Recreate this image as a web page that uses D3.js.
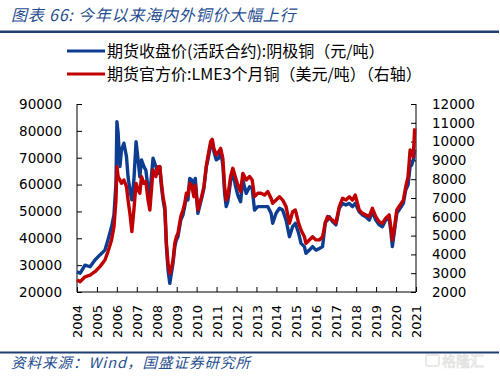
<!DOCTYPE html>
<html><head><meta charset="utf-8">
<script src="https://cdn.jsdelivr.net/npm/d3@7"></script>
<style>
html,body{margin:0;padding:0;background:#fff;}
svg{display:block;}
</style></head>
<body>
<svg id="chart" width="500" height="379"></svg>
<script>
const titleText = "图表 66:  今年以来海内外铜价大幅上行";
const sourceText = "资料来源：Wind，国盛证券研究所";
const seriesNames = ["期货收盘价(活跃合约):阴极铜（元/吨）", "期货官方价:LME3个月铜（美元/吨）（右轴）"];
const yearLabels = [2004,2005,2006,2007,2008,2009,2010,2011,2012,2013,2014,2015,2016,2017,2018,2019,2020,2021];
const leftTicks = [20000,30000,40000,50000,60000,70000,80000,90000];
const rightTicks = [2000,3000,4000,5000,6000,7000,8000,9000,10000,11000,12000];

const dates = ["2004-05-14","2004-07-12","2004-10-08","2005-01-08","2005-04-08","2005-07-08","2005-10-08","2005-12-02","2006-02-06","2006-03-22",
"2006-04-28","2006-05-15","2006-06-06","2006-07-09","2006-08-07","2006-09-20","2006-11-06","2006-12-05","2007-01-08","2007-02-13",
"2007-03-22","2007-05-01","2007-06-07","2007-07-09","2007-08-08","2007-09-21","2007-10-27","2007-12-06","2008-01-08","2008-03-07",
"2008-04-27","2008-06-06","2008-07-09","2008-08-08","2008-09-06","2008-10-09","2008-11-07","2008-12-06","2009-01-08","2009-02-06",
"2009-03-08","2009-04-09","2009-05-08","2009-06-06","2009-07-28","2009-09-06","2009-10-09","2009-11-07","2009-12-06","2010-01-08",
"2010-02-17","2010-03-25","2010-04-20","2010-06-06","2010-07-09","2010-08-14","2010-09-24","2010-11-07","2010-12-06","2011-01-26",
"2011-02-24","2011-03-25","2011-05-08","2011-06-21","2011-07-28","2011-09-06","2011-10-09","2011-11-07","2011-12-06","2012-01-26",
"2012-03-07","2012-04-20","2012-06-06","2012-07-27","2012-09-06","2012-11-07","2013-01-08","2013-02-24","2013-04-09","2013-06-06",
"2013-08-08","2013-10-09","2013-12-06","2014-02-06","2014-03-07","2014-05-08","2014-07-09","2014-09-06","2014-11-07","2015-01-08",
"2015-03-07","2015-04-27","2015-06-25","2015-08-08","2015-10-09","2015-11-07","2016-01-08","2016-03-07","2016-05-08","2016-07-09",
"2016-09-06","2016-10-27","2016-12-06","2017-01-08","2017-03-07","2017-05-08","2017-07-09","2017-09-06","2017-11-07","2018-01-08",
"2018-03-07","2018-04-27","2018-07-09","2018-09-06","2018-11-07","2019-01-08","2019-03-07","2019-05-08","2019-07-09","2019-09-06",
"2019-11-07","2020-01-08","2020-02-06","2020-03-07","2020-04-09","2020-05-27","2020-07-28","2020-09-24","2020-11-07","2020-12-20",
"2021-01-26","2021-02-24","2021-03-25","2021-04-20"];

const shfe = [27500,27000,30000,29400,31900,33800,35600,39400,44300,48700,
60600,83400,79200,66700,72900,75400,70400,62900,58000,54300,
61700,76000,69200,62900,69200,66700,65400,58600,56700,69800,
66700,64200,66700,59200,54300,50500,36900,28200,23200,27000,
30700,36900,39400,40600,46800,48700,52000,55500,54300,62300,
61700,59200,62300,49300,52000,54900,58600,66700,69200,74700,
76000,72300,69200,69800,72900,67300,56700,51800,53600,61100,
65400,59900,56100,53600,61700,56700,59200,58600,50500,51800,
51800,51800,51800,49300,45600,49300,51200,50500,46800,40600,
44300,45600,41900,38100,36900,34400,35600,36900,35600,36200,
36900,46000,46800,48000,46200,45000,51200,53000,52400,53000,
51800,53000,49900,48700,48000,46800,49900,46800,45000,44300,
46800,47400,43100,36900,41900,49300,51200,53000,58000,59900,
66700,67300,69200,73000];

const lme = [2640,2550,2810,2900,3080,3350,3700,4140,4770,5470,
6890,8670,8140,7960,7780,7960,7600,6890,6180,5210,
6360,7780,7430,7250,8140,7780,7870,6890,6360,8490,
8140,8670,8670,7780,7070,6540,4590,3530,2990,3260,
3700,4590,4940,5120,6010,6360,6720,7250,7160,7780,
7600,7070,7690,6360,6720,7070,7600,8670,9200,10000,
10120,9640,9290,9460,9640,9110,7600,6890,7070,8140,
8580,8140,7690,7340,8310,7960,8140,7960,7070,7250,
7250,7160,7340,6980,6720,6890,7070,6890,6540,5660,
6270,6360,5660,5300,4940,4590,4770,4940,4770,4770,
4940,5700,6010,5920,5830,5660,6540,6980,6890,7070,
6890,7160,6360,6180,6100,6010,6450,6010,5740,5660,
5920,6100,5480,4770,5300,6360,6630,6890,7600,8140,
9550,9370,9200,10700];

const parse = d3.timeParse("%Y-%m-%d");
const svg = d3.select("#chart");
const blue = "#0D3D91", red = "#C00000", navy = "#1F3F73", textBlue = "#1F4E8F";

// header
svg.append("text").attr("x", 11).attr("y", 21)
  .attr("font-family", "'Noto Sans CJK SC', sans-serif").attr("font-size", 16)
  .attr("letter-spacing", 0.8)
  .attr("font-style", "italic").attr("fill", textBlue).text(titleText);
svg.append("rect").attr("x", 0).attr("y", 30.5).attr("width", 499).attr("height", 2.5).attr("fill", navy);

// footer
svg.append("rect").attr("x", 0).attr("y", 351.5).attr("width", 499).attr("height", 2).attr("fill", navy);
svg.append("text").attr("x", 11).attr("y", 367.5)
  .attr("font-family", "'Noto Sans CJK SC', sans-serif").attr("font-size", 14.5)
  .attr("letter-spacing", 1)
  .attr("font-style", "italic").attr("fill", textBlue).text(sourceText);
// watermark
const wm = svg.append("g").attr("opacity", 0.5);
wm.append("rect").attr("x", 426).attr("y", 355).attr("width", 13).attr("height", 11).attr("rx", 1.5)
  .attr("fill", "none").attr("stroke", "#c8c8c8").attr("stroke-width", 1.5);
wm.append("text").attr("x", 442).attr("y", 366).attr("font-family", "'Noto Sans CJK SC', sans-serif")
  .attr("font-size", 14).attr("fill", "none").attr("stroke", "#c8c8c8").attr("stroke-width", 0.8).text("格隆汇");

// scales
const x0 = 77, x1 = 416, yTop = 104, yBot = 292;
const x = d3.scaleTime().domain([parse("2004-05-14"), parse("2021-05-14")]).range([x0, x1]);
const yL = d3.scaleLinear().domain([20000, 90000]).range([yBot, yTop]);
const yR = d3.scaleLinear().domain([2000, 12000]).range([yBot, yTop]);

const axisFont = "'DejaVu Sans', Verdana, sans-serif";

// left axis
const gL = svg.append("g").attr("transform", `translate(${x0},0)`)
  .call(d3.axisRight(yL).tickValues(leftTicks).tickSize(5).tickFormat(d3.format("d")));
gL.select(".domain").attr("d", `M0,${yTop}V${yBot}`);
gL.selectAll("text").attr("x", -15).attr("text-anchor", "end");
// right axis
const gR = svg.append("g").attr("transform", `translate(${x1},0)`)
  .call(d3.axisLeft(yR).tickValues(rightTicks).tickSize(5).tickFormat(d3.format("d")));
gR.select(".domain").attr("d", `M0,${yTop}V${yBot}`);
gR.selectAll("text").attr("x", 16).attr("text-anchor", "start");
// bottom axis
const tickDates = yearLabels.map(yv => new Date(yv, 4, 14));
const gB = svg.append("g").attr("transform", `translate(0,${yBot})`)
  .call(d3.axisTop(x).tickValues(tickDates).tickSize(5).tickFormat(d3.timeFormat("%Y")));
gB.select(".domain").attr("d", `M${x0},0H${x1}`);
gB.selectAll("text").attr("transform", "rotate(-90)").attr("text-anchor", "end")
  .attr("x", -13).attr("y", 0).attr("dy", "0.35em");

[gL, gR, gB].forEach(g => {
  g.selectAll(".domain").attr("stroke", "#000").attr("stroke-width", 1);
  g.selectAll(".tick line").attr("stroke", "#000").attr("stroke-width", 1);
  g.selectAll("text").attr("font-family", axisFont).attr("font-size", 13.5).attr("fill", "#000");
});
gB.selectAll("text").attr("font-size", 13);

// lines
const dd = dates.map(parse);
const lineL = d3.line().x((d, i) => x(dd[i])).y(d => yL(d));
const lineR = d3.line().x((d, i) => x(dd[i])).y(d => yR(d));
svg.append("path").datum(shfe).attr("d", lineL).attr("fill", "none")
  .attr("stroke", blue).attr("stroke-width", 3.4).attr("stroke-linejoin", "round");
svg.append("path").datum(lme).attr("d", lineR).attr("fill", "none")
  .attr("stroke", red).attr("stroke-width", 3.4).attr("stroke-linejoin", "round");

// legend
const leg = svg.append("g");
[[blue, 51, seriesNames[0]], [red, 74, seriesNames[1]]].forEach(([c, yy, t]) => {
  leg.append("line").attr("x1", 67).attr("x2", 105).attr("y1", yy).attr("y2", yy)
    .attr("stroke", c).attr("stroke-width", 3);
  leg.append("text").attr("x", 107).attr("y", yy + 5.5)
    .attr("font-family", "'Noto Sans CJK SC', sans-serif").attr("font-size", 16)
    .attr("fill", "#000").text(t);
});
</script>
</body></html>
